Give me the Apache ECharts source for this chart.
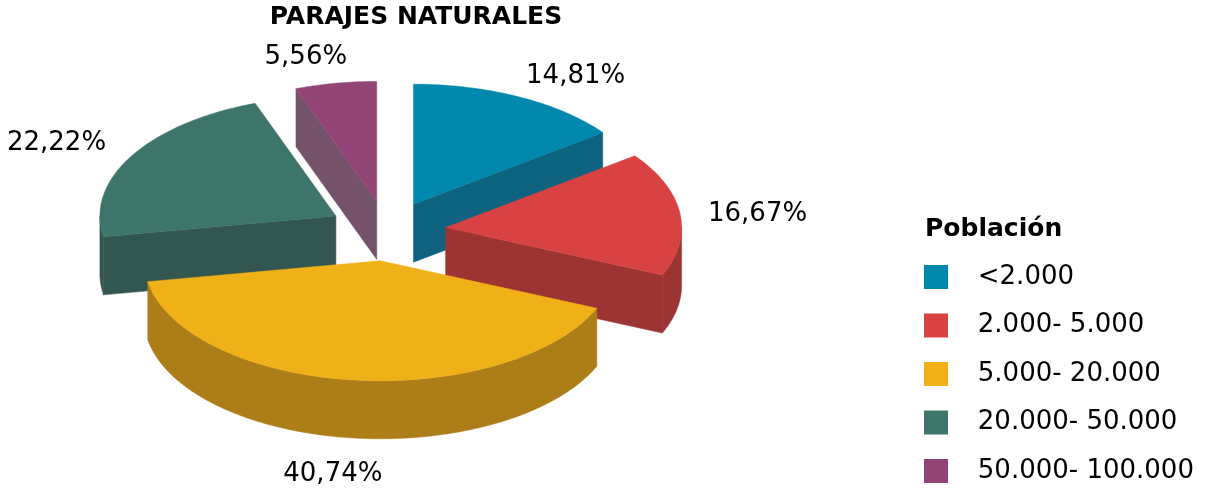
<!DOCTYPE html>
<html>
<head>
<meta charset="utf-8">
<script src="https://cdn.jsdelivr.net/npm/echarts@6/dist/echarts.min.js"></script>
<style>
  html, body { margin: 0; padding: 0; background: #fff; }
  #chart { width: 1210px; height: 489px; }
</style>
</head>
<body>
<div id="chart"></div>
<script>
var categories = ['<2.000', '2.000- 5.000', '5.000- 20.000', '20.000- 50.000', '50.000- 100.000'];
var shares = [14.81, 16.67, 40.74, 22.22, 5.56];
var shareLabels = ['14,81%', '16,67%', '40,74%', '22,22%', '5,56%'];
var topColors = ['#0087AE', '#D94242', '#F0B018', '#3E756B', '#934477'];
var sideColors = ['#0E6380', '#9C3433', '#AD7D18', '#345650', '#74536A'];

var FONT = 'Verdana, "DejaVu Sans", sans-serif';

// 3D pie layout (pixels)
var cx = 387, cy = 231, rx = 236, ry = 120, depth = 58, explode = 0.25;

function sliceRenderer(idx) {
    return function (params, api) {
        var total = 0, before = 0;
        for (var i = 0; i < shares.length; i++) {
            total += shares[i];
            if (i < idx) before += shares[i];
        }
        var a0 = before / total * 2 * Math.PI;
        var a1 = (before + shares[idx]) / total * 2 * Math.PI;
        var mid = (a0 + a1) / 2;
        var ox = cx + explode * rx * Math.sin(mid);
        var oy = cy - explode * ry * Math.cos(mid);

        function rim(a, dy) {
            return [ox + rx * Math.sin(a), oy - ry * Math.cos(a) + (dy || 0)];
        }
        function arc(from, to, dy) {
            var pts = [];
            var n = Math.max(2, Math.ceil(Math.abs(to - from) / (Math.PI / 180)));
            for (var j = 0; j <= n; j++) pts.push(rim(from + (to - from) * j / n, dy));
            return pts;
        }
        function wall(a) {
            return [[ox, oy], rim(a, 0), rim(a, depth), [ox, oy + depth]];
        }

        var base = 100 - Math.abs(mid - Math.PI) * 10;
        var side = sideColors[idx];
        var children = [];

        // curved outer side, front half only
        var f0 = Math.max(a0, Math.PI / 2), f1 = Math.min(a1, 3 * Math.PI / 2);
        if (f1 > f0) {
            children.push({
                type: 'polygon', z2: base,
                shape: { points: arc(f0, f1, 0).concat(arc(f1, f0, depth)) },
                style: { fill: side, stroke: side, lineWidth: 0.5 }
            });
        }
        // radial walls facing the viewer
        if (a0 > Math.PI && a0 < 2 * Math.PI) {
            children.push({
                type: 'polygon', z2: base,
                shape: { points: wall(a0) },
                style: { fill: side, stroke: side, lineWidth: 0.5 }
            });
        }
        if (a1 > 0 && a1 < Math.PI) {
            children.push({
                type: 'polygon', z2: base,
                shape: { points: wall(a1) },
                style: { fill: side, stroke: side, lineWidth: 0.5 }
            });
        }
        // top face
        children.push({
            type: 'polygon', z2: base + 1,
            shape: { points: [[ox, oy]].concat(arc(a0, a1, 0)) },
            style: { fill: topColors[idx], stroke: topColors[idx], lineWidth: 0.5 }
        });

        // percentage label
        var k = 1.22;
        var lx = ox + k * rx * Math.sin(mid) + 30 * Math.max(-1, Math.min(1, Math.sin(mid) * 4));
        var ly = oy - k * ry * Math.cos(mid) + (depth + 10) * Math.max(0, -Math.cos(mid));
        if (idx === 0) { lx += 3; ly += 3; }
        if (idx === 1) { lx -= 4; ly += 4; }
        children.push({
            type: 'text', z2: 1000,
            x: lx, y: ly,
            style: {
                text: shareLabels[idx],
                fill: '#000',
                fontSize: 26,
                fontFamily: FONT,
                align: 'center',
                verticalAlign: 'middle'
            }
        });

        return { type: 'group', children: children };
    };
}

var series = [];
for (var s = 0; s < categories.length; s++) {
    series.push({
        type: 'custom',
        name: categories[s],
        coordinateSystem: 'none',
        itemStyle: { color: topColors[s] },
        data: [shares[s]],
        renderItem: sliceRenderer(s)
    });
}

var myChart = echarts.init(document.getElementById('chart'));

var option = {
    animation: false,
    title: [
        {
            text: 'PARAJES NATURALES',
            left: 416,
            top: 5,
            padding: 0,
            textAlign: 'center',
            textStyle: { fontSize: 25, fontWeight: 'bold', color: '#000', fontFamily: FONT }
        },
        {
            text: 'Población',
            left: 925,
            top: 217,
            padding: 0,
            textStyle: { fontSize: 25, fontWeight: 'bold', color: '#000', fontFamily: FONT }
        }
    ],
    legend: {
        orient: 'vertical',
        left: 924,
        top: 264,
        height: 300,
        padding: 0,
        icon: 'rect',
        itemWidth: 24,
        itemHeight: 24,
        itemGap: 22.5,
        data: categories,
        formatter: function (name) { return '   ' + name; },
        textStyle: { fontSize: 26, color: '#000', fontFamily: FONT, lineHeight: 24 }
    },
    series: series
};

myChart.setOption(option);
</script>
</body>
</html>
